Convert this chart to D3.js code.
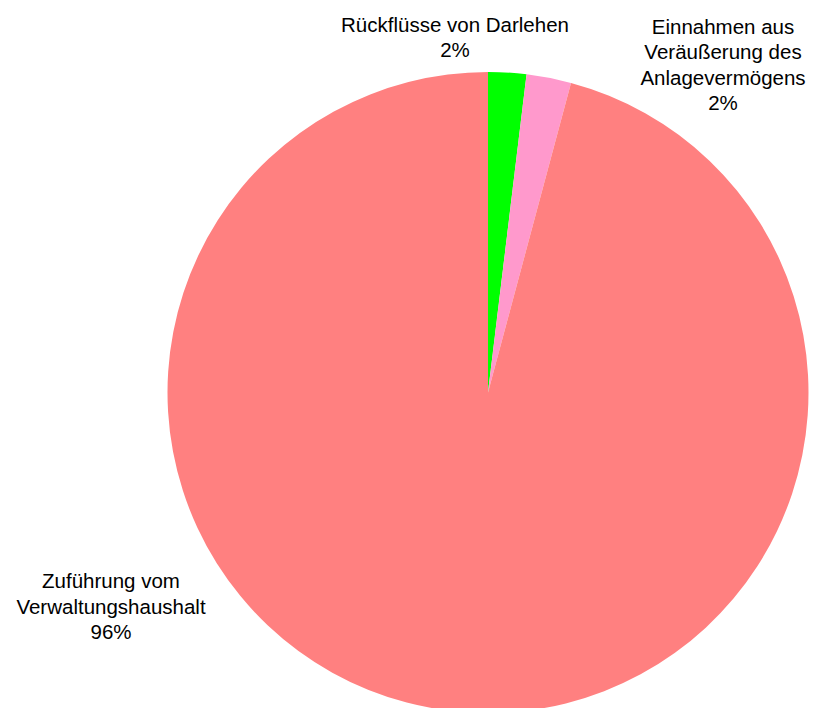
<!DOCTYPE html>
<html>
<head>
<meta charset="utf-8">
<script src="https://cdn.jsdelivr.net/npm/d3@7"></script>
<style>
  html, body { margin: 0; padding: 0; background: #fff; }
  svg { display: block; }
  text { font-family: "Liberation Sans", Arial, sans-serif; fill: #000; }
</style>
</head>
<body>
<svg id="chart" width="816" height="708"></svg>
<script>
const categories = ["Rückflüsse von Darlehen", "Einnahmen aus Veräußerung des Anlagevermögens", "Zuführung vom Verwaltungshaushalt"];
const values = [1.92, 2.25, 95.83];
const percentLabels = ["2%", "2%", "96%"];
const labelLines = [
  ["Rückflüsse von Darlehen", "2%"],
  ["Einnahmen aus", "Veräußerung des", "Anlagevermögens", "2%"],
  ["Zuführung vom", "Verwaltungshaushalt", "96%"]
];
const colors = ["#00FF00", "#FF99CC", "#FF8080"];

const svg = d3.select("#chart");
const cx = 488, cy = 392.5, r = 320.5;

const pie = d3.pie().sort(null).value(d => d)(values);
const arc = d3.arc().innerRadius(0).outerRadius(r);

const g = svg.append("g").attr("transform", `translate(${cx},${cy})`);
g.selectAll("path").data(pie).enter().append("path")
  .attr("d", arc)
  .attr("fill", (d, i) => colors[i]);

// label anchor positions (center x, first baseline y)
const labelPos = [[455, 31.5], [723, 33.5], [111, 588]];
const lineH = 25.5;
labelLines.forEach((lines, i) => {
  const t = svg.append("text")
    .attr("text-anchor", "middle")
    .attr("font-size", 20.5);
  lines.forEach((ln, j) => {
    t.append("tspan")
      .attr("x", labelPos[i][0])
      .attr("y", labelPos[i][1] + j * lineH)
      .text(ln);
  });
});
</script>
</body>
</html>
